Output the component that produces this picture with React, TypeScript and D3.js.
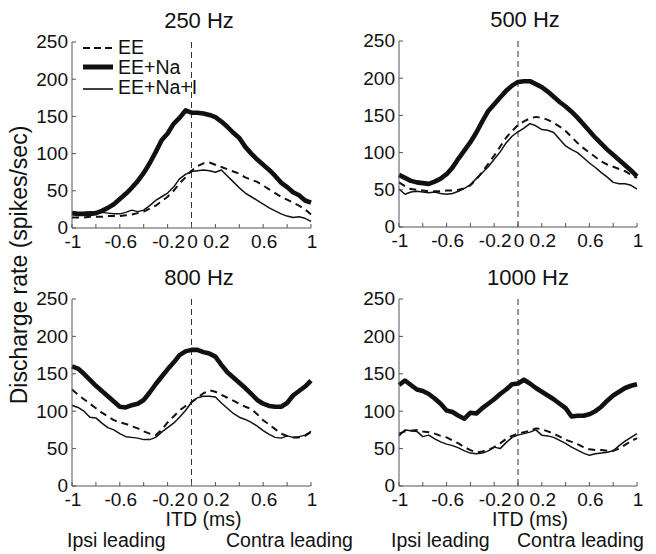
import React from "react";
import * as d3 from "d3";

const itd = [
  -1, -0.95, -0.9, -0.85, -0.8, -0.75, -0.7, -0.65, -0.6, -0.55, -0.5, -0.45, -0.4, -0.35, -0.3, -0.25, -0.2, -0.15, -0.1, -0.05,
  0, 0.05, 0.1, 0.15, 0.2, 0.25, 0.3, 0.35, 0.4, 0.45, 0.5, 0.55, 0.6, 0.65, 0.7, 0.75, 0.8, 0.85, 0.9, 0.95, 1,
];

const titles = ["250 Hz", "500 Hz", "800 Hz", "1000 Hz"];
const seriesNames = ["EE", "EE+Na", "EE+Na+I"];

// 250 Hz
const ee250 = [14, 14, 14, 15, 15, 15, 16, 16, 16, 17, 18, 20, 22, 26, 30, 36, 42, 50, 60, 68, 77, 83, 87, 88, 85, 82, 79, 76, 73, 68, 65, 62, 57, 52, 47, 42, 38, 34, 30, 25, 18];
const na250 = [20, 19, 19, 19, 20, 23, 27, 32, 39, 46, 54, 63, 74, 87, 102, 118, 127, 140, 148, 158, 155, 155, 154, 152, 149, 143, 136, 128, 121, 109, 100, 92, 85, 78, 70, 61, 55, 48, 44, 37, 34];
const nai250 = [19, 20, 21, 22, 21, 21, 20, 19, 19, 21, 24, 22, 24, 30, 37, 42, 47, 55, 66, 72, 76, 77, 78, 77, 75, 78, 70, 62, 54, 47, 42, 37, 32, 27, 23, 19, 16, 14, 15, 13, 9];

// 500 Hz
const ee500 = [60, 55, 51, 50, 49, 48, 48, 48, 49, 49, 50, 52, 56, 64, 74, 85, 96, 108, 120, 129, 137, 142, 146, 148, 147, 144, 140, 135, 129, 121, 113, 106, 100, 94, 88, 84, 81, 78, 75, 70, 66];
const na500 = [70, 66, 62, 60, 59, 58, 61, 65, 71, 80, 92, 103, 114, 127, 142, 156, 165, 174, 183, 190, 195, 196, 196, 192, 188, 182, 175, 168, 162, 155, 147, 138, 129, 120, 112, 104, 97, 90, 83, 76, 68];
const nai500 = [51, 44, 47, 48, 47, 46, 47, 45, 44, 45, 48, 52, 57, 65, 73, 81, 91, 101, 113, 122, 128, 133, 139, 136, 131, 130, 127, 118, 109, 104, 100, 93, 86, 80, 73, 67, 60, 58, 58, 56, 51];

// 800 Hz
const ee800 = [129, 122, 116, 110, 104, 98, 93, 88, 85, 83, 80, 77, 73, 70, 68, 75, 85, 93, 101, 107, 112, 118, 124, 128, 126, 122, 118, 114, 110, 106, 103, 96, 88, 82, 76, 70, 67, 65, 65, 67, 72];
const na800 = [160, 157, 150, 142, 134, 127, 120, 113, 106, 105, 108, 110, 115, 125, 136, 146, 156, 165, 175, 180, 182, 182, 179, 177, 173, 162, 152, 145, 138, 131, 123, 115, 110, 107, 106, 106, 111, 121, 127, 133, 141];
const nai800 = [108, 105, 100, 92, 91, 84, 78, 75, 70, 66, 65, 64, 62, 62, 65, 72, 78, 84, 92, 101, 112, 118, 120, 120, 119, 111, 104, 97, 92, 89, 85, 80, 74, 69, 65, 64, 67, 65, 66, 68, 73];

// 1000 Hz
const ee1000 = [70, 73, 74, 75, 73, 72, 70, 67, 65, 61, 57, 52, 48, 45, 46, 48, 52, 57, 63, 67, 70, 72, 74, 77, 76, 73, 70, 66, 62, 59, 56, 52, 49, 48, 48, 47, 47, 50, 55, 60, 64];
const na1000 = [135, 141, 135, 129, 127, 123, 117, 110, 101, 99, 94, 90, 98, 97, 104, 110, 116, 123, 129, 136, 137, 142, 137, 131, 126, 121, 116, 110, 104, 93, 94, 94, 96, 100, 106, 114, 121, 126, 131, 134, 136];
const nai1000 = [67, 75, 74, 73, 66, 68, 63, 59, 56, 54, 51, 47, 44, 43, 44, 47, 52, 50, 58, 65, 68, 70, 72, 75, 68, 67, 65, 61, 57, 52, 48, 44, 41, 43, 44, 45, 47, 54, 60, 65, 70];

const xTicks = [-1, -0.8, -0.6, -0.4, -0.2, 0, 0.2, 0.4, 0.6, 0.8, 1];
const xTickLabels = ["-1", "", "-0.6", "", "-0.2", "0", "0.2", "", "0.6", "", "1"];
const yTicks = [0, 50, 100, 150, 200, 250];

const panelData = [
  [ee250, na250, nai250],
  [ee500, na500, nai500],
  [ee800, na800, nai800],
  [ee1000, na1000, nai1000],
];

const boxes = [
  { x0: 72, x1: 311, top: 42, bottom: 228, tx: 199, ty: 28 },
  { x0: 399, x1: 637, top: 41, bottom: 227, tx: 525, ty: 27 },
  { x0: 72, x1: 311, top: 299, bottom: 486, tx: 199, ty: 285 },
  { x0: 399, x1: 637, top: 299, bottom: 486, tx: 528, ty: 285 },
];

const FONT = "'Liberation Sans', Arial, Helvetica, sans-serif";

const styles = [
  { w: 2, dash: "7,5" },
  { w: 4.6, dash: undefined },
  { w: 1.5, dash: undefined },
];

function Panel({ idx }: { idx: number }) {
  const b = boxes[idx];
  const x = d3.scaleLinear().domain([-1, 1]).range([b.x0, b.x1]);
  const y = d3.scaleLinear().domain([0, 250]).range([b.bottom, b.top]);
  const line = d3
    .line<number>()
    .x((_, i) => x(itd[i]))
    .y((d) => y(d));
  const data = panelData[idx];
  return (
    <g>
      <text x={b.tx} y={b.ty} textAnchor="middle" fontSize={22} fontFamily={FONT} fill="#111">
        {titles[idx]}
      </text>
      <line x1={x(0)} x2={x(0)} y1={b.top} y2={b.bottom} stroke="#333" strokeWidth={1} strokeDasharray="6,4" />
      {data.map((s, k) => (
        <path
          key={k}
          d={line(s) || ""}
          fill="none"
          stroke="#111"
          strokeWidth={styles[k].w}
          strokeDasharray={styles[k].dash}
          strokeLinejoin="round"
        />
      ))}
      <line x1={b.x0} x2={b.x0} y1={b.top} y2={b.bottom} stroke="#555" strokeWidth={1} />
      <line x1={b.x0} x2={b.x1} y1={b.bottom} y2={b.bottom} stroke="#555" strokeWidth={1} />
      {yTicks.map((t) => (
        <g key={"y" + t}>
          <line x1={b.x0} x2={b.x0 + 4} y1={y(t)} y2={y(t)} stroke="#555" />
          <text
            x={b.x0 - 4}
            y={y(t)}
            dy="0.34em"
            textAnchor="end"
            fontSize={19}
            fontFamily={FONT}
            fill="#111"
          >
            {t}
          </text>
        </g>
      ))}
      {xTicks.map((t, i) => (
        <g key={"x" + t}>
          <line x1={x(t)} x2={x(t)} y1={b.bottom} y2={b.bottom - 4} stroke="#555" />
          <text x={x(t) + 1} y={b.bottom + 20} textAnchor="middle" fontSize={19} fontFamily={FONT} fill="#111">
            {xTickLabels[i]}
          </text>
        </g>
      ))}
      {idx >= 2 && (
        <g fontFamily={FONT} fontSize={19.5} fill="#111">
          <text x={(b.x0 + b.x1) / 2 + 12} y={b.bottom + 40} textAnchor="middle">
            ITD (ms)
          </text>
          <text x={idx === 3 ? 391 : 67} y={b.bottom + 61}>
            Ipsi leading
          </text>
          <text x={idx === 3 ? 517 : 226} y={b.bottom + 61}>
            Contra leading
          </text>
        </g>
      )}
    </g>
  );
}

function Legend() {
  const rows = [48, 67, 89];
  const ty = [53.5, 73.5, 94];
  return (
    <g>
      {seriesNames.map((n, k) => (
        <g key={n}>
          <line
            x1={83}
            x2={113}
            y1={rows[k]}
            y2={rows[k]}
            stroke="#111"
            strokeWidth={k === 1 ? 5 : k === 0 ? 2 : 1.6}
            strokeDasharray={k === 0 ? "7,4" : undefined}
          />
          <text x={118} y={ty[k]} fontSize={19.5} fontFamily={FONT} fill="#111">
            {n}
          </text>
        </g>
      ))}
    </g>
  );
}

export default function App() {
  return (
    <svg
      width={656}
      height={554}
      style={{ position: "absolute", left: 0, top: 0, background: "#fff" }}
    >
      <rect width={656} height={554} fill="#fff" />
      {[0, 1, 2, 3].map((i) => (
        <Panel key={i} idx={i} />
      ))}
      <Legend />
      <text
        transform="translate(27,265) rotate(-90)"
        textAnchor="middle"
        fontSize={23}
        fontFamily={FONT}
        fill="#111"
      >
        Discharge rate (spikes/sec)
      </text>
    </svg>
  );
}
